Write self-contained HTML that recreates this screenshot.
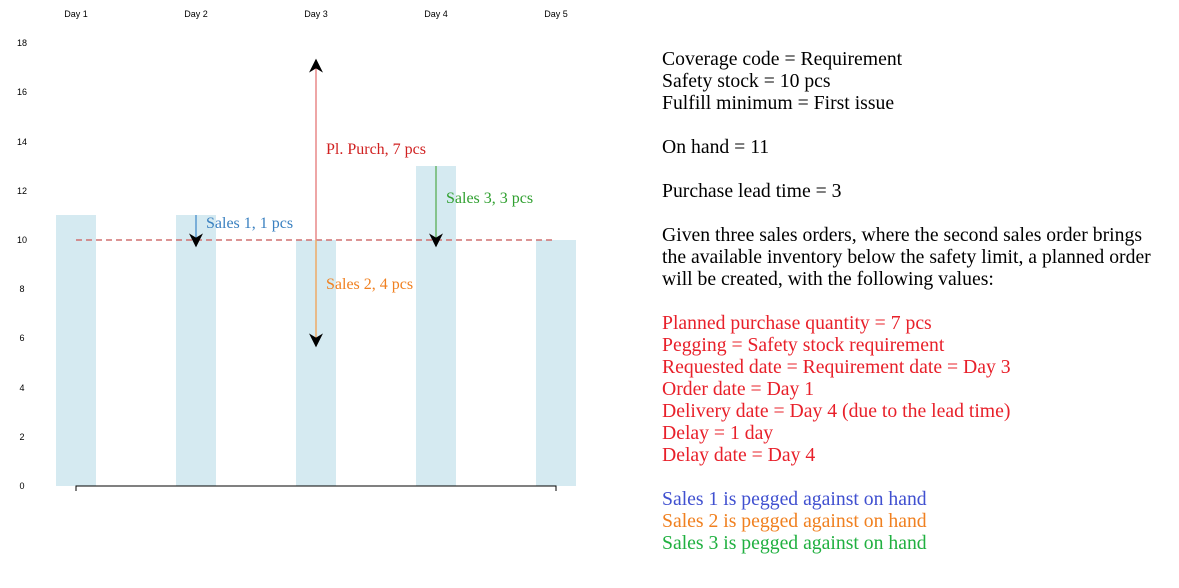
<!DOCTYPE html>
<html><head><meta charset="utf-8"><style>
html,body{margin:0;padding:0;background:#fff;width:1179px;height:588px;overflow:hidden}
.t{position:absolute;left:662px;top:48px;font-family:"Liberation Serif",serif;font-size:19.7px;line-height:22px;color:#000;white-space:pre}
</style></head><body>
<svg width="1179" height="588" style="position:absolute;left:0;top:0">
<defs>
<marker id="ah" viewBox="0 0 10 10" refX="9" refY="5" markerWidth="14" markerHeight="14" markerUnits="userSpaceOnUse" orient="auto">
<path d="M0,0 L10,5 L0,10 L3,5 z" fill="#000"/></marker>
</defs>
<g font-family="Liberation Sans, sans-serif" font-size="9" fill="#000" text-anchor="middle">
<text x="76" y="17">Day 1</text><text x="196" y="17">Day 2</text><text x="316" y="17">Day 3</text><text x="436" y="17">Day 4</text><text x="556" y="17">Day 5</text>
</g>
<g font-family="Liberation Sans, sans-serif" font-size="9" fill="#000" text-anchor="middle">
<text x="22" y="46">18</text><text x="22" y="95">16</text><text x="22" y="145">14</text><text x="22" y="194">12</text><text x="22" y="243">10</text><text x="22" y="292">8</text><text x="22" y="341">6</text><text x="22" y="391">4</text><text x="22" y="440">2</text><text x="22" y="489">0</text>
</g>
<g fill="#d5eaf1">
<rect x="56" y="215" width="40" height="271"/>
<rect x="176" y="215" width="40" height="271"/>
<rect x="296" y="240" width="40" height="246"/>
<rect x="416" y="166" width="40" height="320"/>
<rect x="536" y="240" width="40" height="246"/>
</g>
<path d="M76,491 V486 H556 V491" fill="none" stroke="#000" stroke-width="1"/>
<line x1="76" y1="240" x2="556" y2="240" stroke="#d07070" stroke-width="1.5" stroke-dasharray="6,4"/>
<line x1="196" y1="215" x2="196" y2="246" stroke="#5a9bd0" stroke-width="1.5" marker-end="url(#ah)"/>
<line x1="316" y1="240" x2="316" y2="60" stroke="#e88888" stroke-width="1.5" marker-end="url(#ah)"/>
<line x1="316" y1="240" x2="316" y2="346" stroke="#efaa66" stroke-width="1.5" marker-end="url(#ah)"/>
<line x1="436" y1="166" x2="436" y2="246" stroke="#6ab66a" stroke-width="1.5" marker-end="url(#ah)"/>
<g font-family="Liberation Serif, serif" font-size="16">
<text x="206" y="228" fill="#3a80c0">Sales 1, 1 pcs</text>
<text x="326" y="154" fill="#d02020">Pl. Purch, 7 pcs</text>
<text x="326" y="289" fill="#f08020">Sales 2, 4 pcs</text>
<text x="446" y="203" fill="#30a030">Sales 3, 3 pcs</text>
</g>
</svg>
<div class="t">Coverage code = Requirement
Safety stock = 10 pcs
Fulfill minimum = First issue

On hand = 11

Purchase lead time = 3

Given three sales orders, where the second sales order brings
the available inventory below the safety limit, a planned order
will be created, with the following values:

<span style="color:#e8202a">Planned purchase quantity = 7 pcs
Pegging = Safety stock requirement
Requested date = Requirement date = Day 3
Order date = Day 1
Delivery date = Day 4 (due to the lead time)
Delay = 1 day
Delay date = Day 4</span>

<span style="color:#4050d0">Sales 1 is pegged against on hand</span>
<span style="color:#f08020">Sales 2 is pegged against on hand</span>
<span style="color:#20b040">Sales 3 is pegged against on hand</span></div>
</body></html>
